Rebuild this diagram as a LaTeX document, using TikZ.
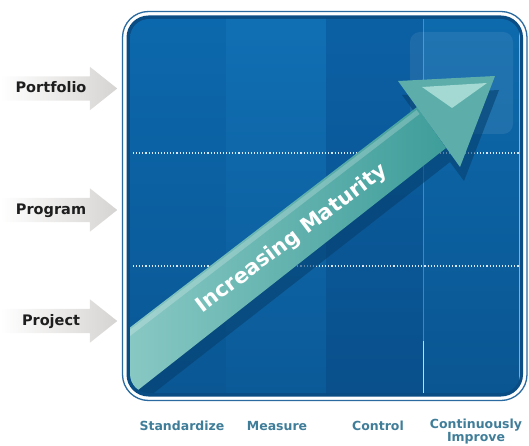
\documentclass[tikz,border=0pt]{standalone}
\usepackage{fontspec}
\setmainfont{DejaVu Sans}
\usetikzlibrary{shapes.arrows}

\definecolor{rimblue}{HTML}{2A6AA0}
\definecolor{frameblue}{HTML}{0A4C84}
\definecolor{colAtop}{HTML}{0C68AC}
\definecolor{colAbot}{HTML}{0A5794}
\definecolor{colBtop}{HTML}{106FB3}
\definecolor{colBbot}{HTML}{0B5A98}
\definecolor{colCtop}{HTML}{0B60A4}
\definecolor{colCbot}{HTML}{09508C}
\definecolor{colDtop}{HTML}{0D6AAC}
\definecolor{colDbot}{HTML}{0A5692}
\definecolor{shaftlight}{HTML}{8FCCC7}
\definecolor{shaftdark}{HTML}{3E9D9A}
\definecolor{headteal}{HTML}{5DAEAA}
\definecolor{headlight}{HTML}{A3D8D3}
\definecolor{shadowblue}{HTML}{06406F}
\definecolor{lvlgray}{HTML}{D6D4D2}
\definecolor{lvltext}{HTML}{1E1E1E}
\definecolor{stagetext}{HTML}{3F7D99}

\begin{document}
\begin{tikzpicture}[x=1pt, y=-1pt]

\tikzset{
  level/.style={single arrow, shape border rotate=0, anchor=west,
    minimum height=117pt, single arrow head extend=9.5pt, single arrow tip angle=77,
    inner xsep=2pt, inner ysep=6pt, text height=10pt, text depth=2pt,
    left color=white, right color=lvlgray, text=lvltext,
    font=\bfseries\fontsize{14.5}{14.5}\selectfont},
  stage/.style={text=stagetext, align=center, font=\bfseries\fontsize{12.5}{13}\selectfont},
  gridline/.style={white, dotted, line width=1.1pt, opacity=0.85}
}

\useasboundingbox (0,0) rectangle (529,446);

% --- Rahmen ---
\draw[rimblue, line width=1.3pt, rounded corners=26pt] (122.5,11.5) rectangle (527,400.5);
\fill[frameblue, rounded corners=22pt] (126.5,15.5) rectangle (523,396.5);

\begin{scope}
\clip[rounded corners=19pt] (130,19) rectangle (520,393);

% --- Spalten ---
\shade[top color=colAtop, bottom color=colAbot] (130,19) rectangle (226,393);
\shade[top color=colBtop, bottom color=colBbot] (226,19) rectangle (326,393);
\shade[top color=colCtop, bottom color=colCbot] (326,19) rectangle (423,393);
\shade[top color=colDtop, bottom color=colDbot] (423,19) rectangle (520,393);
\fill[white, opacity=0.08, rounded corners=10pt] (410,32) rectangle (513,134);

% --- Raster ---
\draw[gridline] (133,153) -- (519,153);
\draw[gridline] (133,266) -- (519,266);
\draw[white, opacity=0.25, line width=0.8pt] (423,19) -- (423,393);
\draw[white, opacity=0.7, line width=1pt] (423,341) -- (423,393);
\draw[white, opacity=0.5, line width=0.8pt] (519,19) -- (519,393);

% --- Schatten + Pfeilschaft ---
\fill[shadowblue, opacity=0.6] (104,364) -- (421,121) -- (402,95) -- (499,90) -- (464,181) -- (450,162) -- (114,424) -- cycle;
\shade[left color=shaftlight, right color=shaftdark] (100,350.5) -- (417,107) -- (446,148) -- (110,412) -- cycle;
\draw[white, opacity=0.22, line width=5pt] (102.5,354) -- (418,112);
\end{scope}

% --- Pfeilspitze ---
\fill[headteal] (398,81) -- (495,76) -- (460,167) -- cycle;
\fill[headlight] (422,87) -- (487,83) -- (452,108) -- cycle;

% --- Beschriftungen ---
\node[rotate=37, text=white, font=\bfseries\fontsize{21}{21}\selectfont] (maturity) at (292,239) {Increasing Maturity};

\node[level] (portfolio) at (0,88.5) {Portfolio};
\node[level] (program) at (0,210) {Program};
\node[level] (project) at (0,321) {Project};

\node[stage] (standardize) at (182,426) {Standardize};
\node[stage] (measure) at (277,426) {Measure};
\node[stage] (control) at (378,426) {Control};
\node[stage] (improve) at (476,431.5) {Continuously\\Improve};

\end{tikzpicture}
\end{document}
